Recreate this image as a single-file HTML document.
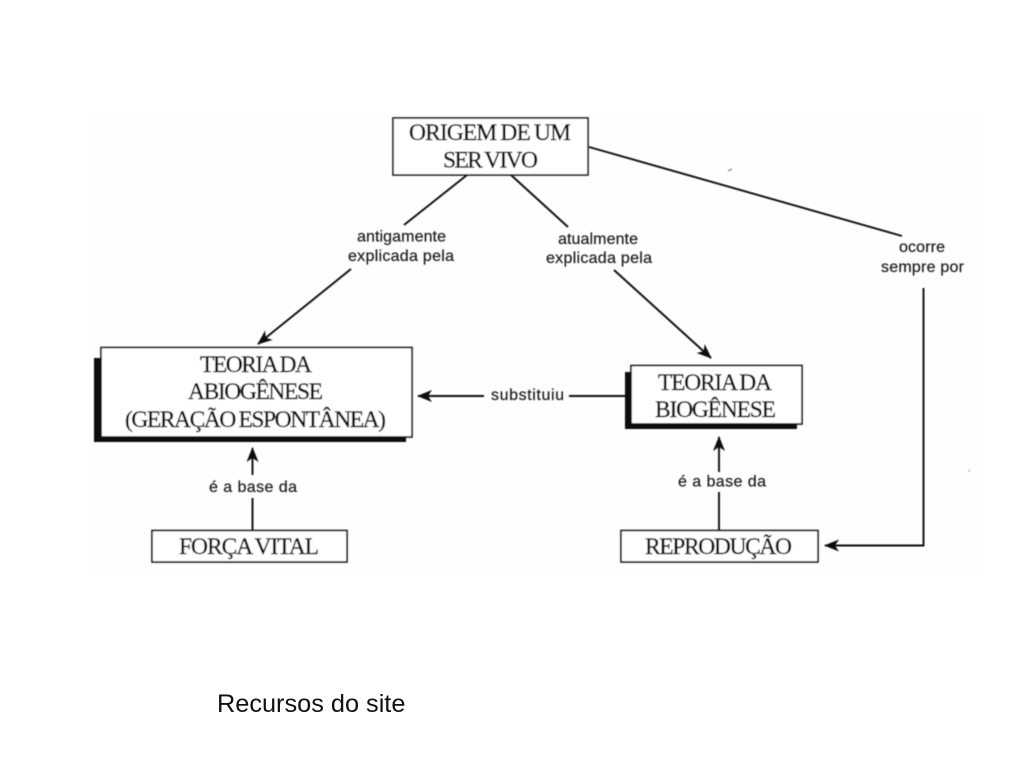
<!DOCTYPE html>
<html><head><meta charset="utf-8">
<style>
html,body{margin:0;padding:0;background:#fff;width:1024px;height:768px;overflow:hidden}
svg{display:block}
.s{font-family:"Liberation Serif",serif;fill:#111;stroke:#111;stroke-width:.4px;text-anchor:middle;font-size:23.5px;word-spacing:-.8px}
.l{font-family:"Liberation Sans",sans-serif;fill:#1c1c1c;stroke:#1c1c1c;stroke-width:.2px;text-anchor:middle;font-size:16px}
</style></head><body>
<svg width="1024" height="768" viewBox="0 0 1024 768">
<defs>
<marker id="a" markerWidth="16" markerHeight="14" refX="14" refY="7" orient="auto" markerUnits="userSpaceOnUse"><path d="M0 1L15 7L0 13L4 7Z" fill="#111"/></marker>
<filter id="b" filterUnits="userSpaceOnUse" x="0" y="0" width="1024" height="768"><feGaussianBlur stdDeviation="0.4"/></filter>
</defs>
<rect x="90" y="112" width="892" height="463" fill="#fefefe"/>
<g filter="url(#b)">
<g fill="none" stroke="#111" stroke-width="1.9">
<line x1="467" y1="175" x2="404" y2="225"/>
<line x1="351" y1="269" x2="258" y2="344" marker-end="url(#a)"/>
<line x1="511" y1="175" x2="568" y2="227"/>
<line x1="614" y1="270" x2="711" y2="358" marker-end="url(#a)"/>
<line x1="589" y1="147" x2="902" y2="236"/>
<polyline points="923.5,288 923.5,545.5 825,545.5" marker-end="url(#a)"/>
<line x1="628" y1="396" x2="569" y2="396"/>
<line x1="484" y1="396" x2="418" y2="396" marker-end="url(#a)"/>
<line x1="252.5" y1="530" x2="252.5" y2="498"/>
<line x1="252.5" y1="475" x2="252.5" y2="448" marker-end="url(#a)"/>
<line x1="719" y1="531" x2="719" y2="492"/>
<line x1="719" y1="472" x2="719" y2="437" marker-end="url(#a)"/>
</g>
<rect x="94" y="358" width="312" height="84" fill="#0c0c0c"/>
<rect x="625" y="372" width="172" height="57" fill="#0c0c0c"/>
<g fill="#fff" stroke="#111" stroke-width="1.6">
<rect x="393" y="118" width="195" height="57"/>
<rect x="101" y="347.500" width="311" height="89.500"/>
<rect x="631" y="365.500" width="171" height="58.500"/>
<rect x="152" y="530.500" width="195" height="31.500"/>
<rect x="621" y="530.500" width="197" height="31.500"/>
</g>
<text class="s" x="490" y="140" textLength="162">ORIGEM DE UM</text>
<text class="s" x="490.500" y="167.500" textLength="95">SER VIVO</text>
<text class="s" x="256" y="372" textLength="112">TEORIA DA</text>
<text class="s" x="255.500" y="399" textLength="135">ABIOGÊNESE</text>
<text class="s" x="255.500" y="427" textLength="261">(GERAÇÃO ESPONTÂNEA)</text>
<text class="s" x="715" y="390" textLength="114">TEORIA DA</text>
<text class="s" x="715.500" y="417" textLength="121">BIOGÊNESE</text>
<text class="s" x="249" y="554" textLength="140">FORÇA VITAL</text>
<text class="s" x="718.500" y="554" textLength="147">REPRODUÇÃO</text>
<text class="l" x="401.500" y="241.500" textLength="89">antigamente</text>
<text class="l" x="401" y="261" textLength="106">explicada pela</text>
<text class="l" x="598" y="244" textLength="80">atualmente</text>
<text class="l" x="599" y="263" textLength="106">explicada pela</text>
<text class="l" x="922" y="252" textLength="46">ocorre</text>
<text class="l" x="922.500" y="272" textLength="83">sempre por</text>
<text class="l" x="527.500" y="400" textLength="73">substituiu</text>
<text class="l" x="253" y="492" textLength="88">é a base da</text>
<text class="l" x="722" y="486.500" textLength="88">é a base da</text>
<path d="M728 171l4-2" stroke="#777" stroke-width="1"/>
<circle cx="969" cy="471" r="1" fill="#bbb"/>
</g>
<text x="217" y="712" font-family="'Liberation Sans',sans-serif" font-size="25.3" fill="#111">Recursos do site</text>
</svg>
</body></html>
